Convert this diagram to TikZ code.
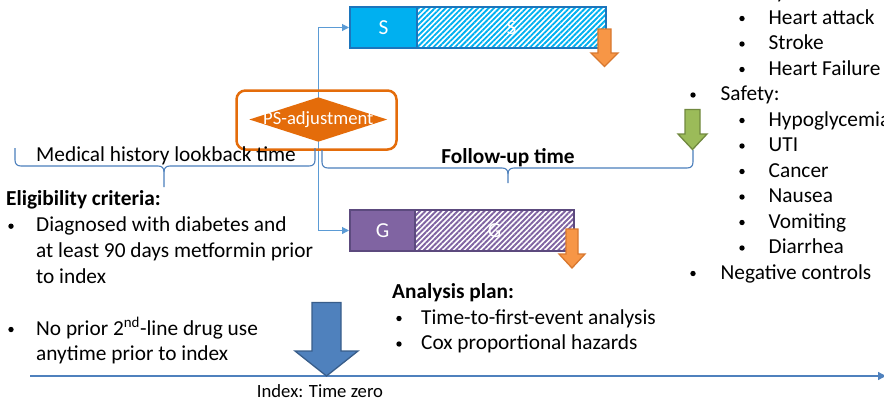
\documentclass[tikz,border=0pt]{standalone}
\usepackage{fontspec}
\setmainfont{Carlito}
\usetikzlibrary{patterns.meta,backgrounds,shapes.geometric,arrows.meta}
\definecolor{sFill}{HTML}{00B0F0}
\definecolor{sBorder}{HTML}{1C75BC}
\definecolor{gFill}{HTML}{8064A2}
\definecolor{gBorder}{HTML}{5C4A7E}
\definecolor{orFill}{HTML}{F79646}
\definecolor{orBorder}{HTML}{D8782F}
\definecolor{psOrange}{HTML}{E46C0A}
\definecolor{grFill}{HTML}{9BBB59}
\definecolor{grBorder}{HTML}{71893F}
\definecolor{blFill}{HTML}{4F81BD}
\definecolor{blBorder}{HTML}{385D8A}
\definecolor{lineBlue}{HTML}{5B9BD5}
\definecolor{braceBlue}{HTML}{4A7EBB}
\newcommand{\DnArrow}[7]{%
  \draw[#1] ({#2-#5},#3) -- ({#2+#5},#3) -- ({#2+#5},#7) -- ({#2+#6},#7) -- (#2,#4)
    -- ({#2-#6},#7) -- ({#2-#5},#7) -- cycle;}
\tikzset{
  txt/.style={font=\fontsize{21.33}{25.6}\selectfont, inner sep=0, anchor=base west},
  bul/.style={circle, fill=black, inner sep=0, minimum size=5.4},
  small/.style={font=\fontsize{18.67}{22.4}\selectfont, inner sep=0},
  solidbar/.style={line width=2, minimum height=41, inner sep=0, text=white,
    font=\fontsize{21.33}{25.6}\selectfont},
  sbar/.style={solidbar, draw=sBorder, fill=sFill},
  shatch/.style={solidbar, draw=sBorder,
    pattern={Lines[angle=45,distance=3.8pt,line width=1.9pt]}, pattern color=sFill},
  gbar/.style={solidbar, draw=gBorder, fill=gFill},
  ghatch/.style={solidbar, draw=gBorder,
    pattern={Lines[angle=45,distance=3.8pt,line width=1.9pt]}, pattern color=gFill},
  conn/.style={draw=lineBlue, line width=1.1, -{Triangle[length=7,width=7]}},
  bracepath/.style={draw=braceBlue, line width=1.1},
  orarrow/.style={fill=orFill, draw=orBorder, line width=1.3},
  grarrow/.style={fill=grFill, draw=grBorder, line width=1.3},
  blarrow/.style={fill=blFill, draw=blBorder, line width=1.3},
}
\begin{document}
\begin{tikzpicture}[x=1pt,y=-1pt]
\useasboundingbox (0,0) rectangle (884,400);

% bars
\node[sbar, minimum width=67] (sA) at (383.5,27.5) {S};
\node[shatch, minimum width=189] (sB) at (511.5,27.5) {S};
\node[gbar, minimum width=65] (gA) at (382.5,230.5) {G};
\node[ghatch, minimum width=159] (gB) at (494.5,230.5) {G};

% PS adjustment
\node[draw=psOrange, line width=2.5, rounded corners=9, minimum width=160,
  minimum height=59, inner sep=0] (psbox) at (316.5,120) {};
\node[diamond, fill=psOrange, minimum width=138, minimum height=44.5, inner sep=0]
  (psd) at (318.3,119.5) {};
\node[small, text=white] (pst) at (318.3,119.5) {PS-adjustment};

% connectors
\begin{scope}[on background layer]
\draw[conn] (psd.center) |- (sA.west);
\draw[conn] (psd.center) |- (gA.west);
\end{scope}

% orange / green arrows
\DnArrow{orarrow}{604.5}{29}{66.5}{6.5}{13.5}{53}
\DnArrow{orarrow}{572}{229}{268}{6}{13}{254}

% braces
\draw[bracepath] (15,148) -- (15,160) .. controls (15,164) and (17,166) .. (21,166)
  -- (158,166) .. controls (162,166) and (164,168) .. (164,172) -- (164,187);
\draw[bracepath] (164,172) .. controls (164,168) and (166,166) .. (170,166)
  -- (309,166) .. controls (313,166) and (315,164) .. (315,160) -- (315,148);
\draw[bracepath] (322,150) -- (322,162) .. controls (322,166) and (324,168) .. (328,168)
  -- (502,168) .. controls (506,168) and (508,170) .. (508,174) -- (508,183);
\draw[bracepath] (508,174) .. controls (508,170) and (510,168) .. (514,168)
  -- (687,168) .. controls (691,168) and (693,166) .. (693,162) -- (693,150);
\DnArrow{grarrow}{692.5}{109.5}{149.5}{7.5}{14.5}{134}

\node[txt] (medhist) at (36,161) {Medical history lookback time};
\node[txt, anchor=base, font=\fontsize{21.33}{25.6}\selectfont\bfseries] (fu) at (508,163) {Follow-up time};

% eligibility
\node[txt, font=\fontsize{21.33}{25.6}\selectfont\bfseries] (elig) at (6,205) {Eligibility criteria:};
\node[bul] (b1) at (11,226.2) {};
\node[txt] (e1) at (36,231.7) {Diagnosed with diabetes and};
\node[txt] (e2) at (36,257.3) {at least 90 days metformin prior};
\node[txt] (e3) at (36,283) {to index};
\node[bul] (b2) at (11,329.5) {};
\node[txt] (e4) at (36,335) {No prior 2\textsuperscript{nd}-line drug use};
\node[txt] (e5) at (36,360.5) {anytime prior to index};

% analysis plan
\node[txt, font=\fontsize{21.33}{25.6}\selectfont\bfseries] (ap) at (392,298.5) {Analysis plan:};
\node[bul] (b3) at (399,318.5) {};
\node[txt] (a1) at (421,324) {Time-to-first-event analysis};
\node[bul] (b4) at (399,344) {};
\node[txt] (a2) at (421,349.5) {Cox proportional hazards};

% outcomes list
\node[bul] (o0b) at (693,-7) {};
\node[txt] (o0) at (720.5,-1.5) {Efficacy:};
\node[bul] (o1b) at (742,18.5) {};
\node[txt] (o1) at (768.5,24) {Heart attack};
\node[bul] (o2b) at (742,44) {};
\node[txt] (o2) at (768.5,49.5) {Stroke};
\node[bul] (o3b) at (742,69.5) {};
\node[txt] (o3) at (768.5,75) {Heart Failure};
\node[bul] (o4b) at (693,95) {};
\node[txt] (o4) at (720.5,100.5) {Safety:};
\node[bul] (o5b) at (742,120.5) {};
\node[txt] (o5) at (768.5,126) {Hypoglycemia};
\node[bul] (o6b) at (742,146) {};
\node[txt] (o6) at (768.5,151.5) {UTI};
\node[bul] (o7b) at (742,171.5) {};
\node[txt] (o7) at (768.5,177) {Cancer};
\node[bul] (o8b) at (742,197) {};
\node[txt] (o8) at (768.5,202.5) {Nausea};
\node[bul] (o9b) at (742,222.5) {};
\node[txt] (o9) at (768.5,228) {Vomiting};
\node[bul] (o10b) at (742,248) {};
\node[txt] (o10) at (768.5,253.5) {Diarrhea};
\node[bul] (o11b) at (693,273.5) {};
\node[txt] (o11) at (720.5,279) {Negative controls};

% timeline
\coordinate (tl0) at (30,376);
\coordinate (tl1) at (886,376);
\draw[draw=blFill, line width=1.3, -{Triangle[length=8,width=8]}] (tl0) -- (tl1);
\DnArrow{blarrow}{326.5}{302.5}{376}{14.5}{31.5}{351}
\node[small, anchor=base] (idx) at (320,397) {Index: Time zero};
\end{tikzpicture}
\end{document}
